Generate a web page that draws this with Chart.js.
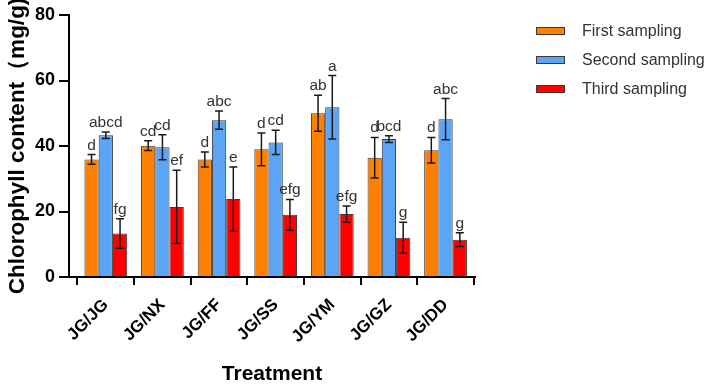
<!DOCTYPE html>
<html><head><meta charset="utf-8">
<script src="https://cdn.jsdelivr.net/npm/chart.js@4"></script>
<style>html,body{margin:0;padding:0;background:#fff}#wrap{width:709px;height:384px;position:relative}</style>
</head><body><div id="wrap"><canvas id="c" width="709" height="384"></canvas></div>
<script>
const categories = ['JG/JG','JG/NX','JG/FF','JG/SS','JG/YM','JG/GZ','JG/DD'];
const seriesNames = ['First sampling','Second sampling','Third sampling'];
const firstValues  = [35.9, 40.1, 35.9, 39.0, 50.0, 36.4, 38.7];
const firstErrors  = [1.5, 1.5, 2.3, 5.0, 5.5, 6.2, 3.9];
const secondValues = [43.3, 39.6, 47.9, 41.1, 51.8, 42.1, 48.2];
const secondErrors = [1.0, 3.8, 2.8, 3.7, 9.7, 1.0, 6.3];
const thirdValues  = [13.3, 21.4, 23.8, 19.0, 19.2, 12.0, 11.4];
const thirdErrors  = [4.5, 11.2, 9.8, 4.7, 2.5, 4.7, 2.1];
const firstLetters  = ['d','cd','d','d','ab','d','d'];
const secondLetters = ['abcd','cd','abc','cd','a','bcd','abc'];
const thirdLetters  = ['fg','ef','e','efg','efg','g','g'];
const yTicks = [0, 20, 40, 60, 80];

const colors = ['#FF8000', '#5CA4F4', '#FF0000'];
const values = [firstValues, secondValues, thirdValues];
const errors = [firstErrors, secondErrors, thirdErrors];
const letters = [firstLetters, secondLetters, thirdLetters];
const FONT = "'Liberation Sans', Arial, sans-serif";

const errorBarPlugin = {
  id: 'errbars',
  afterDatasetsDraw(chart) {
    const ctx = chart.ctx, ys = chart.scales.y;
    ctx.save();
    chart.data.datasets.forEach((ds, di) => {
      const meta = chart.getDatasetMeta(di);
      meta.data.forEach((bar, i) => {
        const v = values[di][i], e = errors[di][i];
        const yT = ys.getPixelForValue(v + e), yB = ys.getPixelForValue(v - e);
        const x = bar.x;
        ctx.strokeStyle = '#1a1a1a'; ctx.lineWidth = 1.5;
        ctx.beginPath();
        ctx.moveTo(x, yT); ctx.lineTo(x, yB);
        ctx.moveTo(x - 4, yT); ctx.lineTo(x + 4, yT);
        ctx.moveTo(x - 4, yB); ctx.lineTo(x + 4, yB);
        ctx.stroke();
        ctx.fillStyle = '#333';
        ctx.font = '15.5px ' + FONT;
        ctx.textAlign = 'center'; ctx.textBaseline = 'alphabetic';
        ctx.fillText(letters[di][i], x, yT - 5);
      });
    });
    ctx.restore();
  }
};

const legendPlugin = {
  id: 'customLegend',
  afterDraw(chart) {
    const ctx = chart.ctx;
    ctx.save();
    const rows = [31, 60, 89];
    chart.data.datasets.forEach((ds, di) => {
      const y = rows[di];
      ctx.fillStyle = ds.backgroundColor;
      ctx.fillRect(536, y - 3.5, 29, 7);
      ctx.strokeStyle = '#3a3a3a'; ctx.lineWidth = 1;
      ctx.strokeRect(536.5, y - 3.5, 28, 7);
      ctx.fillStyle = '#333';
      ctx.font = '16px ' + FONT;
      ctx.textAlign = 'left'; ctx.textBaseline = 'middle';
      ctx.fillText(ds.label, 582, y + 1);
    });
    ctx.restore();
  }
};

new Chart(document.getElementById('c'), {
  type: 'bar',
  data: {
    datasets: values.map((vals, di) => ({
      label: seriesNames[di],
      data: vals.map((v, i) => ({ x: i, y: v })),
      backgroundColor: colors[di],
      borderColor: '#3a3a3a',
      borderWidth: 1,
      barPercentage: 1.0,
      categoryPercentage: 0.755
    }))
  },
  options: {
    responsive: false,
    animation: false,
    layout: { padding: { top: 15, right: 234, left: 0, bottom: 0 }, autoPadding: false },
    plugins: { legend: { display: false }, tooltip: { enabled: false } },
    scales: {
      x: {
        type: 'linear', min: -0.65, max: 6.52, offset: false,
        grid: { drawOnChartArea: false, drawTicks: true, tickLength: 8, color: '#000', lineWidth: 2 },
        border: { color: '#000', width: 2 },
        afterBuildTicks: s => { s.ticks = categories.map((_, i) => ({ value: i })); },
        afterFit: s => { s.height = 107; },
        ticks: {
          autoSkip: false, minRotation: 45, maxRotation: 45, padding: 10,
          color: '#000', font: { family: FONT, size: 17, weight: 'bold' },
          callback: v => categories[v]
        },
        title: { display: true, text: 'Treatment', color: '#000', padding: { top: 0, bottom: -1 },
          font: { family: FONT, size: 21, weight: 'bold', lineHeight: 1 } }
      },
      y: {
        min: 0, max: 80,
        afterBuildTicks: s => { s.ticks = yTicks.map(v => ({ value: v })); },
        afterFit: s => { s.width = 69; },
        grid: { drawOnChartArea: false, drawTicks: true, tickLength: 10, color: '#000', lineWidth: 2 },
        border: { color: '#000', width: 2 },
        ticks: { padding: 4, color: '#000', font: { family: FONT, size: 18, weight: 'bold' } },
        title: { display: true, text: 'Chlorophyll content（mg/g)', color: '#000', padding: { top: 4, bottom: 4 },
          font: { family: FONT, size: 22.5, weight: 'bold' } }
      }
    }
  },
  plugins: [errorBarPlugin, legendPlugin]
});
</script></body></html>
